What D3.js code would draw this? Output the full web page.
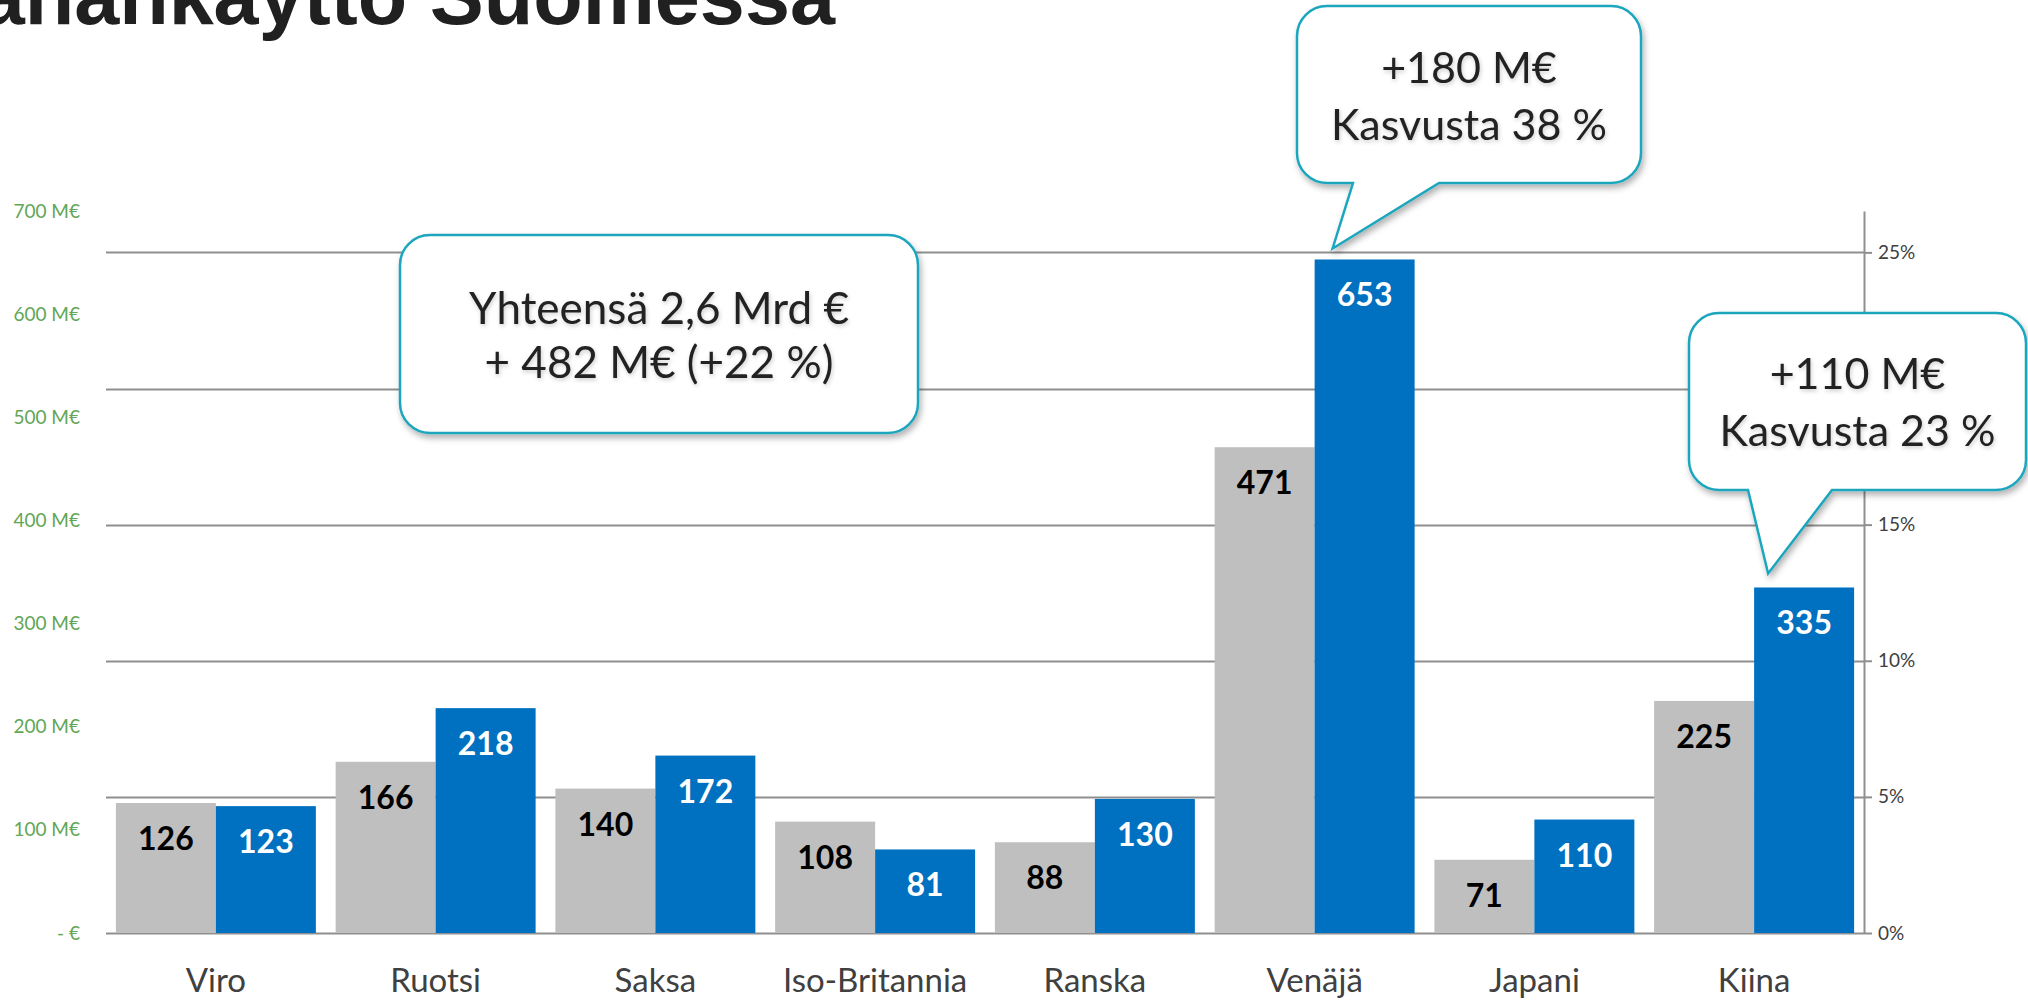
<!DOCTYPE html>
<html>
<head>
<meta charset="utf-8">
<script src="https://cdn.jsdelivr.net/npm/d3@7"></script>
<style>
  html, body { margin: 0; padding: 0; background: #fff; overflow: hidden; }
  svg { display: block; }
</style>
</head>
<body>
<script>
// Chart data
const categories = ['Viro', 'Ruotsi', 'Saksa', 'Iso-Britannia', 'Ranska', 'Venäjä', 'Japani', 'Kiina'];
const series = ['edellinen', 'nykyinen'];
const prevValues = [126, 166, 140, 108, 88, 471, 71, 225];
const currValues = [123, 218, 172, 81, 130, 653, 110, 335];
const leftTicks = [0, 100, 200, 300, 400, 500, 600, 700];
const rightTicks = [0, 0.05, 0.10, 0.15, 0.20, 0.25];
const hiddenRightLabels = [0.20]; // covered by the Kiina callout

const titleText = 'rahankäyttö Suomessa';
const totalNote = ['Yhteensä 2,6 Mrd €', '+ 482 M€ (+22 %)'];
const russiaNote = ['+180 M€', 'Kasvusta 38 %'];
const chinaNote = ['+110 M€', 'Kasvusta 23 %'];

const width = 2028;
const height = 1001;
const plot = { left: 106, right: 1864, top: 211, bottom: 933 };

const svg = d3.select('body')
  .append('svg')
  .attr('width', width)
  .attr('height', height);

const defs = svg.append('defs');
const shadow = defs.append('filter')
  .attr('id', 'boxShadow')
  .attr('x', '-10%').attr('y', '-10%')
  .attr('width', '130%').attr('height', '140%');
shadow.append('feDropShadow')
  .attr('dx', 2).attr('dy', 4)
  .attr('stdDeviation', 3)
  .attr('flood-color', '#000')
  .attr('flood-opacity', 0.3);

const textShadow = defs.append('filter')
  .attr('id', 'textShadow')
  .attr('x', '-10%').attr('y', '-20%')
  .attr('width', '130%').attr('height', '150%');
textShadow.append('feDropShadow')
  .attr('dx', 1).attr('dy', 2)
  .attr('stdDeviation', 2)
  .attr('flood-color', '#000')
  .attr('flood-opacity', 0.2);

// Scales
const x0 = d3.scaleBand()
  .domain(categories)
  .range([plot.left, plot.right])
  .paddingInner(0.09)
  .paddingOuter(0.045);

const x1 = d3.scaleBand()
  .domain(series)
  .range([0, x0.bandwidth()]);

const yLeft = d3.scaleLinear()
  .domain([0, 700])
  .range([plot.bottom, plot.top]);

const yRight = d3.scaleLinear()
  .domain([0, 0.2652])
  .range([plot.bottom, plot.top]);

// Title (cut off at the top of the slide)
svg.append('text')
  .attr('x', 835)
  .attr('y', 24)
  .attr('text-anchor', 'end')
  .attr('font-family', '"Liberation Sans", Arial, sans-serif')
  .attr('font-weight', 'bold')
  .attr('font-size', 81)
  .attr('fill', '#202020')
  .text(titleText);

// Gridlines from the right axis
svg.append('g')
  .selectAll('line')
  .data(rightTicks)
  .join('line')
  .attr('x1', plot.left)
  .attr('x2', plot.right)
  .attr('y1', d => Math.round(yRight(d)) + 0.5)
  .attr('y2', d => Math.round(yRight(d)) + 0.5)
  .attr('stroke', '#8f8f8f')
  .attr('stroke-width', 2);

// Left axis (labels only)
const leftAxis = svg.append('g')
  .attr('transform', `translate(${80},0)`)
  .call(d3.axisLeft(yLeft)
    .tickValues(leftTicks)
    .tickSize(0)
    .tickPadding(0)
    .tickFormat(d => d === 0 ? '- €' : d + ' M€'));
leftAxis.select('.domain').remove();
leftAxis.selectAll('text')
  .attr('font-family', 'Lato, sans-serif')
  .attr('font-size', 19)
  .attr('fill', '#62a656');

// Right axis
const pct = d3.format('.0%');
const rightAxis = svg.append('g')
  .attr('transform', `translate(${plot.right},0)`)
  .call(d3.axisRight(yRight)
    .tickValues(rightTicks)
    .tickSize(8)
    .tickSizeOuter(0)
    .tickPadding(6)
    .tickFormat(d => hiddenRightLabels.includes(d) ? '' : pct(d)));
rightAxis.select('.domain')
  .attr('stroke', '#8f8f8f')
  .attr('stroke-width', 2);
rightAxis.selectAll('.tick line')
  .attr('stroke', '#8f8f8f')
  .attr('stroke-width', 2);
rightAxis.selectAll('text')
  .attr('font-family', 'Lato, sans-serif')
  .attr('font-size', 19)
  .attr('fill', '#404040');

// Bars
const rows = categories.map((c, i) => ({
  category: c,
  values: [
    { key: 'edellinen', value: prevValues[i] },
    { key: 'nykyinen', value: currValues[i] }
  ]
}));

const colors = { edellinen: '#bfbfbf', nykyinen: '#0070c0' };
const labelColors = { edellinen: '#000000', nykyinen: '#ffffff' };

const groups = svg.append('g')
  .selectAll('g')
  .data(rows)
  .join('g')
  .attr('transform', d => `translate(${x0(d.category)},0)`);

groups.selectAll('rect')
  .data(d => d.values)
  .join('rect')
  .attr('x', d => x1(d.key))
  .attr('y', d => yLeft(d.value))
  .attr('width', x1.bandwidth())
  .attr('height', d => yLeft(0) - yLeft(d.value))
  .attr('fill', d => colors[d.key]);

groups.selectAll('text')
  .data(d => d.values)
  .join('text')
  .attr('x', d => x1(d.key) + x1.bandwidth() / 2)
  .attr('y', d => yLeft(d.value) + 47)
  .attr('text-anchor', 'middle')
  .attr('font-family', 'Lato, sans-serif')
  .attr('font-weight', 'bold')
  .attr('font-size', 32)
  .attr('fill', d => labelColors[d.key])
  .text(d => d.value);

// Category labels
svg.append('g')
  .selectAll('text')
  .data(categories)
  .join('text')
  .attr('x', d => x0(d) + x0.bandwidth() / 2)
  .attr('y', 992)
  .attr('text-anchor', 'middle')
  .attr('font-family', 'Lato, sans-serif')
  .attr('font-size', 33)
  .attr('fill', '#404040')
  .text(d => d);

// Callouts
function calloutPath(b) {
  const r = b.r;
  const x = b.x, y = b.y, w = b.w, h = b.h;
  const p = d3.path();
  p.moveTo(x + r, y);
  p.lineTo(x + w - r, y);
  p.arcTo(x + w, y, x + w, y + r, r);
  p.lineTo(x + w, y + h - r);
  p.arcTo(x + w, y + h, x + w - r, y + h, r);
  if (b.tail) {
    p.lineTo(b.tail.right, y + h);
    p.lineTo(b.tail.tipX, b.tail.tipY);
    p.lineTo(b.tail.left, y + h);
  }
  p.lineTo(x + r, y + h);
  p.arcTo(x, y + h, x, y + h - r, r);
  p.lineTo(x, y + r);
  p.arcTo(x, y, x + r, y, r);
  p.closePath();
  return p.toString();
}

function drawCallout(b, lines) {
  const g = svg.append('g');
  g.append('path')
    .attr('d', calloutPath(b))
    .attr('fill', '#ffffff')
    .attr('stroke', '#1ca6bd')
    .attr('stroke-width', 2.5)
    .attr('filter', 'url(#boxShadow)');
  g.append('g')
    .attr('filter', 'url(#textShadow)')
    .selectAll('text')
    .data(lines)
    .join('text')
    .attr('x', b.x + b.w / 2)
    .attr('y', (d, i) => b.y + b.firstBaseline + i * b.lineGap)
    .attr('text-anchor', 'middle')
    .attr('font-family', 'Lato, sans-serif')
    .attr('font-size', b.fontSize)
    .attr('fill', '#222222')
    .text(d => d);
}

// tails point at the top of the current-year bars
const russiaBarX = x0('Venäjä') + x1('nykyinen');
const chinaBarX = x0('Kiina') + x1('nykyinen');

drawCallout({ x: 400, y: 235, w: 518, h: 198, r: 30, firstBaseline: 89, lineGap: 54, fontSize: 44 }, totalNote);

drawCallout({
  x: 1297, y: 6, w: 344, h: 177, r: 30, firstBaseline: 77, lineGap: 57, fontSize: 43,
  tail: { left: 1353, right: 1439, tipX: russiaBarX + 18, tipY: yLeft(653) - 11 }
}, russiaNote);

drawCallout({
  x: 1689, y: 313, w: 337, h: 177, r: 30, firstBaseline: 76, lineGap: 57, fontSize: 43,
  tail: { left: 1748, right: 1832, tipX: chinaBarX + 14, tipY: yLeft(335) - 14 }
}, chinaNote);
</script>
</body>
</html>
